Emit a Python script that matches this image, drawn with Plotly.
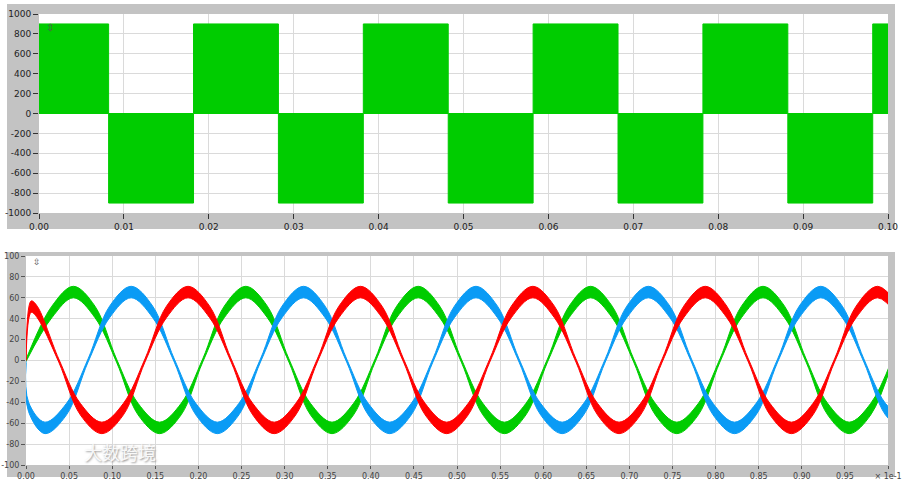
import plotly.graph_objects as go

W, H = 903, 483

# ---------------- top panel data (PWM line voltage blocks) ----------------
pos_start = [0.0, 0.0182, 0.0382, 0.0582, 0.0782, 0.0982]
pos_end = [0.0082, 0.0282, 0.0482, 0.0682, 0.0882, 0.1]
neg_start = [0.0082, 0.0282, 0.0482, 0.0682, 0.0882]
neg_end = [0.0182, 0.0382, 0.0582, 0.0782, 0.0982]
volt_level = 900

top_xticks = [0.0, 0.01, 0.02, 0.03, 0.04, 0.05, 0.06, 0.07, 0.08, 0.09, 0.10]
top_xlabels = ["0.00", "0.01", "0.02", "0.03", "0.04", "0.05", "0.06", "0.07", "0.08", "0.09", "0.10"]
top_yticks = [1000, 800, 600, 400, 200, 0, -200, -400, -600, -800, -1000]
top_ylabels = ["1000", "800", "600", "400", "200", "0", "-200", "-400", "-600", "-800", "-1000"]

# ---------------- bottom panel data (three phase currents, ripple band) ----------------
red_t = [0.0, 0.006, 0.013, 0.038, 0.063, 0.088, 0.113, 0.138, 0.163, 0.188, 0.213, 0.238,
         0.263, 0.288, 0.313, 0.338, 0.363, 0.388, 0.413, 0.438, 0.463, 0.488, 0.513, 0.538,
         0.563, 0.588, 0.613, 0.638, 0.663, 0.688, 0.713, 0.738, 0.763, 0.788, 0.813, 0.838,
         0.863, 0.888, 0.913, 0.938, 0.963, 0.988, 1.013]
red_hi = [0, 57, 52, 1.5, -41, -59, -41, 1.5, 52, 71,
          52, 1.5, -41, -59, -41, 1.5, 52, 71,
          52, 1.5, -41, -59, -41, 1.5, 52, 71,
          52, 1.5, -41, -59, -41, 1.5, 52, 71,
          52, 1.5, -41, -59, -41, 1.5, 52, 71, 52]
red_lo = [0, 46, 41, -1.5, -52, -70, -52, -1.5, 41, 60,
          41, -1.5, -52, -70, -52, -1.5, 41, 60,
          41, -1.5, -52, -70, -52, -1.5, 41, 60,
          41, -1.5, -52, -70, -52, -1.5, 41, 60,
          41, -1.5, -52, -70, -52, -1.5, 41, 60, 41]

green_t = [0.0, 0.030, 0.055, 0.080, 0.105, 0.130, 0.155, 0.180, 0.205, 0.230, 0.255, 0.280,
           0.305, 0.330, 0.355, 0.380, 0.405, 0.430, 0.455, 0.480, 0.505, 0.530, 0.555, 0.580,
           0.605, 0.630, 0.655, 0.680, 0.705, 0.730, 0.755, 0.780, 0.805, 0.830, 0.855, 0.880,
           0.905, 0.930, 0.955, 0.980, 1.005]
green_hi = [1, 52, 71, 52, 1.5, -41, -59, -41,
            1.5, 52, 71, 52, 1.5, -41, -59, -41,
            1.5, 52, 71, 52, 1.5, -41, -59, -41,
            1.5, 52, 71, 52, 1.5, -41, -59, -41,
            1.5, 52, 71, 52, 1.5, -41, -59, -41, 1.5]
green_lo = [-1, 41, 60, 41, -1.5, -52, -70, -52,
            -1.5, 41, 60, 41, -1.5, -52, -70, -52,
            -1.5, 41, 60, 41, -1.5, -52, -70, -52,
            -1.5, 41, 60, 41, -1.5, -52, -70, -52,
            -1.5, 41, 60, 41, -1.5, -52, -70, -52, -1.5]

blue_t = [0.0, 0.003, 0.022, 0.047, 0.072, 0.097, 0.122, 0.147, 0.172, 0.197, 0.222, 0.247,
          0.272, 0.297, 0.322, 0.347, 0.372, 0.397, 0.422, 0.447, 0.472, 0.497, 0.522, 0.547,
          0.572, 0.597, 0.622, 0.647, 0.672, 0.697, 0.722, 0.747, 0.772, 0.797, 0.822, 0.847,
          0.872, 0.897, 0.922, 0.947, 0.972, 0.997, 1.022]
blue_hi = [0, -40, -59, -41, 1.5, 52, 71, 52, 1.5, -41,
           -59, -41, 1.5, 52, 71, 52, 1.5, -41,
           -59, -41, 1.5, 52, 71, 52, 1.5, -41,
           -59, -41, 1.5, 52, 71, 52, 1.5, -41,
           -59, -41, 1.5, 52, 71, 52, 1.5, -41, -59]
blue_lo = [-2, -49, -70, -52, -1.5, 41, 60, 41, -1.5, -52,
           -70, -52, -1.5, 41, 60, 41, -1.5, -52,
           -70, -52, -1.5, 41, 60, 41, -1.5, -52,
           -70, -52, -1.5, 41, 60, 41, -1.5, -52,
           -70, -52, -1.5, 41, 60, 41, -1.5, -52, -70]

bot_xticks = [0.0, 0.05, 0.10, 0.15, 0.20, 0.25, 0.30, 0.35, 0.40, 0.45, 0.50,
              0.55, 0.60, 0.65, 0.70, 0.75, 0.80, 0.85, 0.90, 0.95, 1.0]
bot_xlabels = ["0.00", "0.05", "0.10", "0.15", "0.20", "0.25", "0.30", "0.35", "0.40", "0.45", "0.50",
               "0.55", "0.60", "0.65", "0.70", "0.75", "0.80", "0.85", "0.90", "0.95", "\u00d7 1e-1"]
bot_yticks = [100, 80, 60, 40, 20, 0, -20, -40, -60, -80, -100]
bot_ylabels = ["100", "80", "60", "40", "20", "0", "-20", "-40", "-60", "-80", "-100"]

GREEN = "#00cc00"
RED = "#ff0000"
BLUE = "#0a9bf5"

fig = go.Figure()

# top blocks
for s, e in zip(pos_start, pos_end):
    fig.add_trace(go.Scatter(x=[s, e, e, s, s], y=[0, 0, volt_level, volt_level, 0],
                             fill="toself", fillcolor=GREEN, mode="lines",
                             line=dict(color=GREEN, width=1), xaxis="x", yaxis="y",
                             hoverinfo="skip", showlegend=False))
for s, e in zip(neg_start, neg_end):
    fig.add_trace(go.Scatter(x=[s, e, e, s, s], y=[0, 0, -volt_level, -volt_level, 0],
                             fill="toself", fillcolor=GREEN, mode="lines",
                             line=dict(color=GREEN, width=1), xaxis="x", yaxis="y",
                             hoverinfo="skip", showlegend=False))

# bottom bands
for t, hi, lo, col in [(green_t, green_hi, green_lo, GREEN),
                       (blue_t, blue_hi, blue_lo, BLUE),
                       (red_t, red_hi, red_lo, RED)]:
    fig.add_trace(go.Scatter(x=t, y=lo, mode="lines", line=dict(color=col, width=1, shape="spline"),
                             xaxis="x2", yaxis="y2", hoverinfo="skip", showlegend=False))
    fig.add_trace(go.Scatter(x=t, y=hi, mode="lines", line=dict(color=col, width=1, shape="spline"),
                             fill="tonexty", fillcolor=col,
                             xaxis="x2", yaxis="y2", hoverinfo="skip", showlegend=False))

def fx(p):
    return p / W

def fy(p):
    return 1 - p / H

GRAY = "#c3c3c3"
shapes = [
    dict(type="rect", xref="paper", yref="paper", x0=fx(7), x1=fx(895), y0=fy(229), y1=fy(4),
         fillcolor=GRAY, line=dict(width=0), layer="below"),
    dict(type="rect", xref="paper", yref="paper", x0=fx(39), x1=fx(888), y0=fy(213), y1=fy(14),
         fillcolor="white", line=dict(width=0), layer="below"),
    dict(type="rect", xref="paper", yref="paper", x0=fx(7), x1=fx(895), y0=fy(477), y1=fy(252),
         fillcolor=GRAY, line=dict(width=0), layer="below"),
    dict(type="rect", xref="paper", yref="paper", x0=fx(26), x1=fx(888), y0=fy(465), y1=fy(256),
         fillcolor="white", line=dict(width=0), layer="below"),
]

FONT = "DejaVu Sans"
GRID = "#dadada"

fig.update_layout(
    width=W, height=H,
    margin=dict(l=0, r=0, t=0, b=0, autoexpand=False),
    paper_bgcolor="white", plot_bgcolor="rgba(0,0,0,0)",
    shapes=shapes,
    xaxis=dict(domain=[fx(39), fx(888)], range=[0, 0.1], anchor="y", automargin=False,
               tickvals=top_xticks, ticktext=top_xlabels,
               showgrid=True, gridcolor=GRID, gridwidth=1, zeroline=False,
               ticks="outside", ticklen=5, tickcolor="#333", showline=False,
               tickfont=dict(family=FONT, size=9, color="#222")),
    yaxis=dict(domain=[fy(213), fy(14)], range=[-1000, 1000], anchor="x", automargin=False,
               tickvals=top_yticks, ticktext=top_ylabels,
               showgrid=True, gridcolor=GRID, gridwidth=1, zeroline=False,
               ticks="outside", ticklen=5, tickcolor="#333", showline=False,
               tickfont=dict(family=FONT, size=9, color="#222")),
    xaxis2=dict(domain=[fx(26), fx(888)], range=[0, 1], anchor="y2", automargin=False,
                tickvals=bot_xticks, ticktext=bot_xlabels,
                showgrid=True, gridcolor=GRID, gridwidth=1, zeroline=False,
                ticks="outside", ticklen=3, tickcolor="#555", showline=False,
                tickfont=dict(family=FONT, size=8, color="#444")),
    yaxis2=dict(domain=[fy(465), fy(256)], range=[-100, 100], anchor="x2", automargin=False,
                tickvals=bot_yticks, ticktext=bot_ylabels,
                showgrid=True, gridcolor=GRID, gridwidth=1, zeroline=False,
                ticks="outside", ticklen=4, tickcolor="#555", showline=False,
                tickfont=dict(family=FONT, size=8, color="#444")),
    annotations=[
        dict(text="\u21f3", xref="paper", yref="paper", x=fx(44), y=fy(20), showarrow=False,
             font=dict(family=FONT, size=10, color="#555")),
        dict(text="\u21f3", xref="paper", yref="paper", x=fx(31), y=fy(262), showarrow=False,
             font=dict(family=FONT, size=9, color="#555")),
        dict(text="大数跨境", xref="paper", yref="paper", x=fx(82), y=fy(467), showarrow=False,
             font=dict(family="Noto Sans CJK SC", size=18, color="rgba(255,255,255,0.9)",
                       shadow="1px 1px 2px #888")),
    ],
)

fig.write_html("out.html", config={"displayModeBar": False},
               post_script="document.body.style.margin='0px';document.body.style.overflow='hidden';")
